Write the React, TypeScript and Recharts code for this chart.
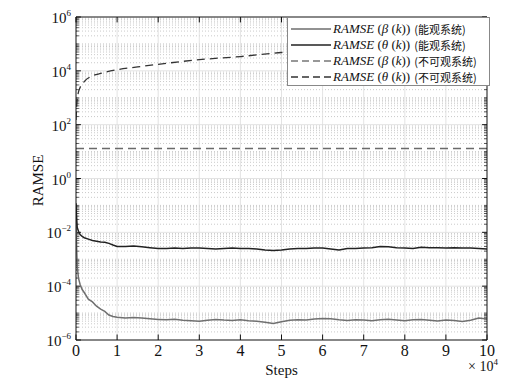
import React from 'react';
import { LineChart, Line, XAxis, YAxis, ReferenceLine } from 'recharts';

// steps are in units of 10^4
const betaObsSteps = [0, 0.01, 0.03, 0.06, 0.1, 0.15, 0.2, 0.3, 0.4, 0.5, 0.6, 0.7, 0.8, 0.9, 1, 1.2, 1.4, 1.6, 1.8, 2, 2.2, 2.4, 2.6, 2.8, 3, 3.2, 3.4, 3.6, 3.8, 4, 4.2, 4.4, 4.6, 4.8, 5, 5.2, 5.4, 5.6, 5.8, 6, 6.2, 6.4, 6.6, 6.8, 7, 7.2, 7.4, 7.6, 7.8, 8, 8.2, 8.4, 8.6, 8.8, 9, 9.2, 9.4, 9.6, 9.8, 10];
const betaObsValues = [0.04, 0.005, 5.5e-4, 2.0e-4, 1.15e-4, 7.5e-5, 5.8e-5, 3.3e-5, 2.6e-5, 1.8e-5, 1.4e-5, 1.15e-5, 8.5e-6, 7.5e-6, 7.0e-6, 6.6e-6, 6.9e-6, 6.5e-6, 6.1e-6, 5.8e-6, 5.6e-6, 5.9e-6, 5.4e-6, 5.2e-6, 5.0e-6, 5.4e-6, 5.8e-6, 5.5e-6, 5.3e-6, 5.6e-6, 5.2e-6, 5.0e-6, 4.6e-6, 4.1e-6, 4.8e-6, 5.4e-6, 5.6e-6, 5.5e-6, 6.0e-6, 6.3e-6, 6.1e-6, 5.6e-6, 5.3e-6, 5.6e-6, 5.5e-6, 5.2e-6, 5.6e-6, 5.9e-6, 5.5e-6, 5.2e-6, 5.6e-6, 5.8e-6, 5.4e-6, 5.1e-6, 5.5e-6, 5.3e-6, 4.9e-6, 5.4e-6, 6.5e-6, 6.0e-6];

const thetaObsSteps = betaObsSteps;
const thetaObsValues = [0.12, 0.05, 0.015, 0.011, 0.0083, 0.007, 0.0063, 0.0056, 0.005, 0.0047, 0.0044, 0.0043, 0.0039, 0.0034, 0.003, 0.003, 0.0031, 0.0029, 0.0027, 0.0025, 0.0025, 0.0026, 0.0025, 0.0026, 0.0026, 0.0025, 0.0024, 0.0025, 0.0026, 0.0025, 0.0025, 0.0024, 0.0022, 0.0021, 0.0022, 0.0024, 0.0025, 0.0025, 0.0026, 0.0026, 0.0024, 0.0022, 0.0025, 0.0025, 0.0026, 0.0027, 0.003, 0.0029, 0.0027, 0.0026, 0.0025, 0.0028, 0.0027, 0.0027, 0.0026, 0.0027, 0.0026, 0.0026, 0.0025, 0.0024];

const betaUnobsSteps = [0, 10];
const betaUnobsValues = [13, 13];

const thetaUnobsSteps = [0, 0.02, 0.05, 0.1, 0.2, 0.4, 0.6, 1, 1.5, 2, 3, 4, 5, 6, 7, 8, 9, 10];
const thetaUnobsValues = [150, 600, 1400, 2400, 4000, 6500, 8000, 11000, 14000, 17500, 26000, 34000, 48000, 56000, 66000, 75000, 85000, 95000];

const xTicks = [0, 1, 2, 3, 4, 5, 6, 7, 8, 9, 10];
const yTicks = [1e-6, 1e-4, 1e-2, 1, 1e2, 1e4, 1e6];

const legendItems = [
  { sym: 'β', tag: '(能观系统)', color: '#6e6e6e', dash: undefined },
  { sym: 'θ', tag: '(能观系统)', color: '#222', dash: undefined },
  { sym: 'β', tag: '(不可观系统)', color: '#777', dash: '7 4' },
  { sym: 'θ', tag: '(不可观系统)', color: '#333', dash: '7 4' },
];

const toPoints = (xs: number[], ys: number[]) => xs.map((x, i) => ({ x, y: ys[i] }));

const SERIF = '"Liberation Serif", "Times New Roman", serif';
const CJK = '"Noto Sans CJK SC", sans-serif';

// minor log positions (2..9 in every decade, plus odd decades)
const minorY: number[] = [];
for (let d = -6; d < 6; d++) {
  for (let k = 1; k <= 9; k++) {
    if (k === 1 && d % 2 === 0) continue;
    minorY.push(k * Math.pow(10, d));
  }
}
const majorInner = [1e-4, 1e-2, 1, 1e2, 1e4];

const YTick = (props: any) => {
  const { x, y, payload } = props;
  const exp = Math.round(Math.log10(payload.value));
  const label = exp < 0 ? '\u2212' + Math.abs(exp) : String(exp);
  return (
    <text x={x} y={y + 6} textAnchor="end" fontFamily={SERIF} fontSize={15} fill="#111">
      10<tspan dy={-7} fontSize={9}>{label}</tspan>
    </text>
  );
};

const XTick = (props: any) => {
  const { x, y, payload } = props;
  return (
    <text x={x} y={y + 14} textAnchor="middle" fontFamily={SERIF} fontSize={16} fill="#111">
      {payload.value}
    </text>
  );
};

const cell: React.CSSProperties = {
  display: 'inline-block',
  height: 14,
  lineHeight: '14px',
  verticalAlign: 'top',
  overflow: 'visible',
};

const LegendBox = () => (
  <div
    style={{
      position: 'absolute',
      left: 287,
      top: 17,
      background: '#fff',
      border: '1px solid #888',
      width: 198,
      padding: '3px 0 0 3px',
      fontFamily: SERIF,
      fontSize: 13,
      color: '#111',
    }}
  >
    {legendItems.map((it, i) => (
      <div key={i} style={{ display: 'flex', alignItems: 'center', whiteSpace: 'nowrap', height: 16 }}>
        <svg width={40} height={10}>
          <line x1={0} y1={5} x2={40} y2={5} stroke={it.color} strokeWidth={1.5} strokeDasharray={it.dash} />
        </svg>
        <span style={{ ...cell, marginLeft: 2 }}>
          <i>RAMSE</i> (<i>{it.sym}</i> (<i>k</i>))
        </span>
        <span style={{ ...cell, marginLeft: 4, fontFamily: CJK, fontSize: 11 }}>{it.tag}</span>
      </div>
    ))}
  </div>
);

export default function App() {
  return (
    <div style={{ position: 'absolute', left: 0, top: 0, width: 508, height: 391, background: '#fff' }}>
      <LineChart width={508} height={391} margin={{ top: 17, right: 21, bottom: 0, left: 0 }}>
        <XAxis
          dataKey="x"
          type="number"
          domain={[0, 10]}
          ticks={xTicks}
          allowDataOverflow
          tick={<XTick />}
          tickLine={false}
          tickSize={0}
          height={51}
          axisLine={{ stroke: '#111' }}
          label={(p: any) => {
            const vb = p.viewBox;
            return (
              <g fontFamily={SERIF} fill="#111">
                <text x={vb.x + vb.width / 2} y={vb.y + 35} textAnchor="middle" fontSize={15}>Steps</text>
                <text x={vb.x + vb.width - 19} y={vb.y + 31} textAnchor="start" fontSize={14}>
                  × 10<tspan dy={-6} fontSize={9}>4</tspan>
                </text>
              </g>
            );
          }}
        />
        <YAxis
          scale="log"
          type="number"
          domain={[1e-6, 1e6]}
          ticks={yTicks}
          allowDataOverflow
          width={76}
          tick={<YTick />}
          tickLine={false}
          tickSize={0}
          tickMargin={5}
          axisLine={{ stroke: '#111' }}
          label={(p: any) => {
            const vb = p.viewBox;
            const cx = 43;
            const cy = vb.y + vb.height / 2 + 2;
            return (
              <text x={cx} y={cy} transform={`rotate(-90 ${cx} ${cy})`} textAnchor="middle" fontFamily={SERIF} fontSize={15} fill="#111">
                RAMSE
              </text>
            );
          }}
        />

        {minorY.map((v) => (
          <ReferenceLine key={'m' + v} y={v} stroke="#bdbdbd" strokeWidth={0.8} strokeDasharray="1 2" />
        ))}
        {majorInner.map((v) => (
          <ReferenceLine key={'M' + v} y={v} stroke="#dcdcdc" strokeWidth={0.8} />
        ))}
        {xTicks.slice(1, -1).map((v) => (
          <ReferenceLine key={'vx' + v} x={v} stroke="#dcdcdc" strokeWidth={0.8} />
        ))}

        {/* inward ticks, both sides */}
        {yTicks.map((v) => (
          <ReferenceLine key={'tl' + v} segment={[{ x: 0, y: v }, { x: 0.12, y: v }]} stroke="#111" />
        ))}
        {yTicks.map((v) => (
          <ReferenceLine key={'tr' + v} segment={[{ x: 9.88, y: v }, { x: 10, y: v }]} stroke="#111" />
        ))}
        {minorY.map((v) => (
          <ReferenceLine key={'ml' + v} segment={[{ x: 0, y: v }, { x: 0.07, y: v }]} stroke="#111" strokeWidth={0.7} />
        ))}
        {minorY.map((v) => (
          <ReferenceLine key={'mr' + v} segment={[{ x: 9.93, y: v }, { x: 10, y: v }]} stroke="#111" strokeWidth={0.7} />
        ))}
        {xTicks.map((v) => (
          <ReferenceLine key={'tb' + v} segment={[{ x: v, y: 1e-6 }, { x: v, y: 1.6e-6 }]} stroke="#111" />
        ))}
        {xTicks.map((v) => (
          <ReferenceLine key={'tt' + v} segment={[{ x: v, y: 6.3e5 }, { x: v, y: 1e6 }]} stroke="#111" />
        ))}

        <Line data={toPoints(betaUnobsSteps, betaUnobsValues)} dataKey="y" stroke="#6a6a6a" strokeWidth={1.3} strokeDasharray="8 5" dot={false} isAnimationActive={false} />
        <Line data={toPoints(thetaUnobsSteps, thetaUnobsValues)} dataKey="y" type="monotone" stroke="#333" strokeWidth={1.3} strokeDasharray="8 5" dot={false} isAnimationActive={false} />
        <Line data={toPoints(betaObsSteps, betaObsValues)} dataKey="y" stroke="#707070" strokeWidth={1.5} dot={false} isAnimationActive={false} />
        <Line data={toPoints(thetaObsSteps, thetaObsValues)} dataKey="y" stroke="#222" strokeWidth={1.5} dot={false} isAnimationActive={false} />

        <ReferenceLine y={1e6} stroke="#111" />
        <ReferenceLine x={10} stroke="#111" />
      </LineChart>
      <LegendBox />
    </div>
  );
}
